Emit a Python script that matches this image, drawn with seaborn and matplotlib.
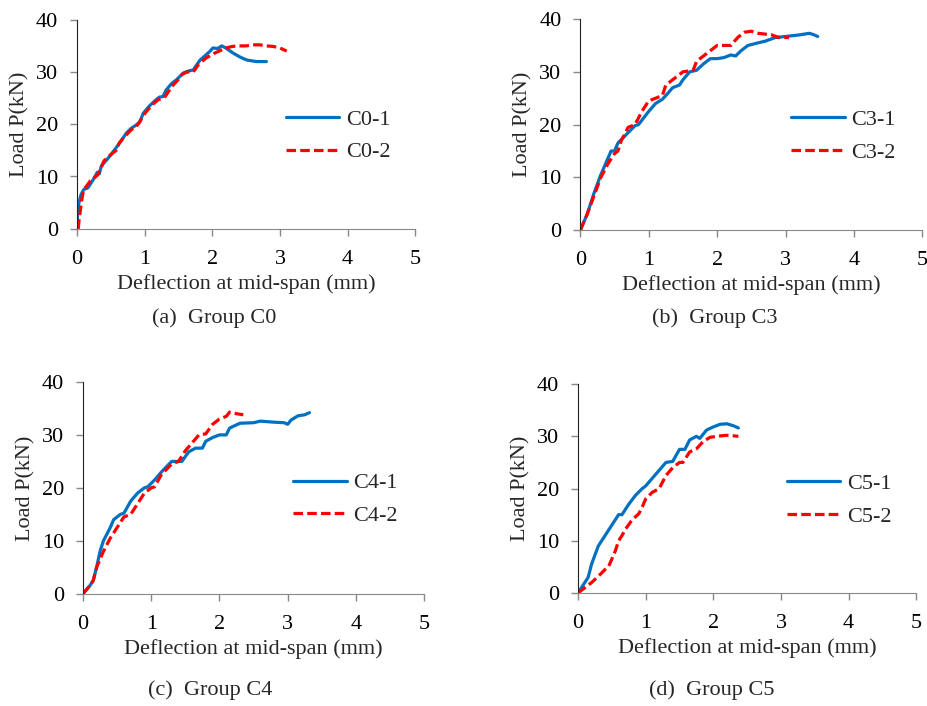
import pandas as pd
import matplotlib
matplotlib.use("Agg")
import matplotlib.pyplot as plt
import seaborn as sns

# load-deflection readings, group C0
c0_1_x = [0, 0.01, 0.03, 0.06, 0.1, 0.16, 0.24, 0.3, 0.33, 0.36, 0.48, 0.55, 0.63, 0.73, 0.8, 0.88,
          0.93, 0.98, 1.07, 1.17, 1.22, 1.27, 1.32, 1.4, 1.47, 1.57, 1.65, 1.72, 1.76, 1.82, 1.9,
          1.96, 2.01, 2.08, 2.14, 2.2, 2.31, 2.42, 2.51, 2.6, 2.66, 2.8]
c0_1_y = [0, 3, 5, 6.5, 7.5, 7.8, 9.4, 10.8, 10.5, 12, 13.8, 15, 16.4, 18.3, 19.2, 19.9,
          20.5, 22.1, 23.5, 24.7, 25.2, 25.3, 26.6, 27.8, 28.5, 29.8, 30.2, 30.4, 31.2, 32.3, 33.2,
          33.9, 34.6, 34.5, 35.0, 34.6, 33.6, 32.8, 32.3, 32.1, 32.0, 32.0]
c0_2_x = [0.02, 0.03, 0.05, 0.07, 0.1, 0.15, 0.2, 0.3, 0.35, 0.4, 0.5, 0.58, 0.62, 0.7, 0.8, 0.88,
          0.92, 1.0, 1.1, 1.2, 1.28, 1.32, 1.4, 1.5, 1.55, 1.62, 1.72, 1.8, 1.9, 2.0, 2.1, 2.2,
          2.3, 2.4, 2.5, 2.6, 2.7, 2.8, 2.9, 3.0, 3.1]
c0_2_y = [0, 1.5, 3.5, 5.5, 7.5, 8.3, 9.2, 10.2, 11.5, 13, 14.2, 15, 16.3, 17.6, 18.9, 19.6,
          20.3, 22, 23.6, 24.7, 25, 25.6, 27.2, 28.6, 29.5, 30, 30, 31.5, 32.6, 33.4, 34, 34.6,
          34.9, 35, 35, 35.2, 35.2, 35, 34.9, 34.6, 34]

# group C3
c3_1_x = [0, 0.1, 0.2, 0.3, 0.4, 0.45, 0.5, 0.55, 0.7, 0.8, 0.85, 1.0, 1.1, 1.2, 1.25, 1.35, 1.45,
          1.5, 1.6, 1.7, 1.8, 1.9, 2.0, 2.1, 2.2, 2.27, 2.35, 2.45, 2.6, 2.7, 2.85, 3.0, 3.2, 3.35,
          3.42, 3.47]
c3_1_y = [0, 3, 7, 10.5, 13.5, 15, 15, 16.5, 18.5, 19.8, 20, 22.5, 24, 24.8, 25.5, 27, 27.5,
          28.5, 30, 30.3, 31.5, 32.5, 32.5, 32.7, 33.2, 33, 34, 35, 35.5, 35.8, 36.5, 36.7, 37, 37.3,
          37, 36.7]
c3_2_x = [0, 0.1, 0.2, 0.3, 0.4, 0.5, 0.55, 0.6, 0.7, 0.8, 0.9, 1.0, 1.1, 1.2, 1.25, 1.4, 1.5,
          1.65, 1.7, 1.85, 2.0, 2.1, 2.2, 2.3, 2.4, 2.5, 2.6, 2.8, 2.9, 3.05]
c3_2_y = [0, 3, 6.5, 10, 12.5, 14.5, 15, 17, 19.5, 20, 22.5, 24.5, 25, 25.5, 27.5, 29, 30,
          30.3, 32, 33.5, 35, 35, 35, 36.5, 37.5, 37.7, 37.3, 37, 36.5, 36.5]

# group C4
c4_1_x = [0, 0.1, 0.15, 0.2, 0.25, 0.3, 0.4, 0.45, 0.55, 0.6, 0.7, 0.8, 0.9, 0.95, 1.05, 1.15,
          1.3, 1.45, 1.55, 1.65, 1.75, 1.8, 1.9, 2.0, 2.1, 2.15, 2.3, 2.5, 2.6, 2.8, 2.95, 3.0,
          3.05, 3.15, 3.25, 3.32]
c4_1_y = [0, 1.5, 2.5, 5, 8, 10, 12.5, 14, 15, 15.2, 17.5, 19, 20, 20.2, 21.5, 23,
          25, 25, 26.8, 27.5, 27.5, 28.8, 29.5, 30, 30, 31.3, 32.2, 32.3, 32.6, 32.4, 32.3, 32,
          32.8, 33.6, 33.8, 34.2]
c4_2_x = [0, 0.1, 0.15, 0.2, 0.3, 0.4, 0.5, 0.6, 0.7, 0.8, 0.9, 1.0, 1.05, 1.15, 1.3, 1.4, 1.5,
          1.6, 1.7, 1.8, 1.9, 2.0, 2.1, 2.15, 2.25, 2.35]
c4_2_y = [0, 1.5, 2.5, 5, 8, 10.5, 12.5, 14.5, 15, 17, 19, 20, 20.2, 22.5, 24.5, 25, 27,
          28.5, 30, 30.2, 32, 33, 33.5, 34.3, 34, 33.8]

# group C5
c5_1_x = [0, 0.1, 0.15, 0.2, 0.3, 0.35, 0.4, 0.5, 0.6, 0.65, 0.75, 0.85, 0.95, 1.0, 1.1, 1.2,
          1.3, 1.4, 1.5, 1.58, 1.65, 1.75, 1.8, 1.9, 2.0, 2.1, 2.2, 2.3, 2.37]
c5_1_y = [0, 2, 3, 5.5, 9, 10, 11, 13, 15, 15, 17, 18.7, 20, 20.5, 22, 23.5,
          25, 25.2, 27.5, 27.5, 29.3, 30, 29.6, 31.2, 31.8, 32.3, 32.4, 32, 31.6]
c5_2_x = [0, 0.1, 0.2, 0.3, 0.4, 0.45, 0.5, 0.55, 0.6, 0.65, 0.7, 0.8, 0.9, 0.95, 1.0, 1.1,
          1.2, 1.3, 1.4, 1.5, 1.55, 1.65, 1.75, 1.85, 1.95, 2.05, 2.2, 2.37]
c5_2_y = [0, 1, 2, 3.2, 4.5, 5, 6.5, 8, 10, 11, 12.2, 14, 15.2, 16.5, 18, 19.3,
          20, 22.5, 24, 25, 25, 27, 27.6, 29, 29.8, 30, 30.2, 30]

groups = ["C0", "C3", "C4", "C5"]
captions = ["(a)  Group C0", "(b)  Group C3", "(c)  Group C4", "(d)  Group C5"]
curves = {
    "C0": [("C0-1", c0_1_x, c0_1_y), ("C0-2", c0_2_x, c0_2_y)],
    "C3": [("C3-1", c3_1_x, c3_1_y), ("C3-2", c3_2_x, c3_2_y)],
    "C4": [("C4-1", c4_1_x, c4_1_y), ("C4-2", c4_2_x, c4_2_y)],
    "C5": [("C5-1", c5_1_x, c5_1_y), ("C5-2", c5_2_x, c5_2_y)],
}

sns.set_style("white")
plt.rcParams["font.family"] = ["Liberation Serif", "DejaVu Serif"]
plt.rcParams["font.size"] = 16

fig = plt.figure(figsize=(9.27, 7.06), dpi=100)
axes_pos = [
    [0.083, 0.676, 0.365, 0.296],
    [0.626, 0.674, 0.369, 0.299],
    [0.0895, 0.159, 0.368, 0.300],
    [0.6235, 0.160, 0.365, 0.296],
]
caption_pos = [(0.164, 0.550), (0.703, 0.550), (0.160, 0.023), (0.700, 0.023)]

blue = "#0070C0"
red = "#FF0000"

for i, g in enumerate(groups):
    ax = fig.add_axes(axes_pos[i])
    frames = []
    for name, xs, ys in curves[g]:
        frames.append(pd.DataFrame({"Deflection": xs, "Load": ys, "Specimen": name}))
    df = pd.concat(frames, ignore_index=True)
    names = [c[0] for c in curves[g]]
    sns.lineplot(data=df, x="Deflection", y="Load", hue="Specimen", style="Specimen",
                 palette={names[0]: blue, names[1]: red},
                 dashes={names[0]: "", names[1]: (3, 1.3)},
                 sort=False, estimator=None, linewidth=2.3, ax=ax)

    ax.set_xlim(0, 5)
    ax.set_ylim(0, 40)
    ax.set_xticks(range(0, 6))
    ax.set_yticks(range(0, 41, 10))
    for s in ["top", "right"]:
        ax.spines[s].set_visible(False)
    ax.spines["left"].set_color("#222222")
    ax.spines["bottom"].set_color("#888888")
    ax.tick_params(axis="both", direction="out", length=5, width=1, color="#888888",
                   labelsize=16, labelcolor="black")
    ax.tick_params(axis="x", pad=10)
    ax.tick_params(axis="y", pad=8.5)
    ax.tick_params(left=True, bottom=True)

    ax.set_xlabel("Deflection at mid-span (mm)", fontsize=16)
    ax.set_ylabel("Load P(kN)", fontsize=16)
    ax.xaxis.set_label_coords(0.5, -0.215)
    ax.yaxis.set_label_coords(-0.14, 0.5)

    ax.legend(loc="center left", bbox_to_anchor=(0.617, 0.445), frameon=False,
              fontsize=16, handlelength=2.4, handletextpad=0.3, labelspacing=0.55,
              borderpad=0, borderaxespad=0)

    fig.text(caption_pos[i][0], caption_pos[i][1], captions[i], fontsize=16,
             ha="left", va="center")

fig.savefig("out.png", dpi=100)
